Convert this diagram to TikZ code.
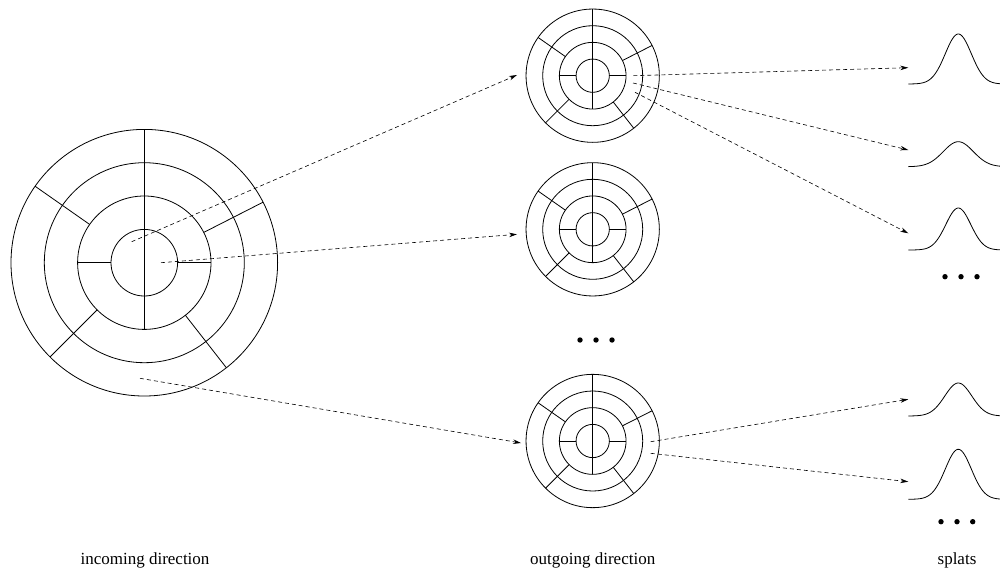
\documentclass[tikz,border=0pt]{standalone}
\usepackage{fontspec}
\setmainfont{Liberation Serif}
\usetikzlibrary{arrows.meta}
\begin{document}
\begin{tikzpicture}[x=1pt,y=-1pt,
  ring/.style={line width=0.8pt},
  arr/.style={dash pattern=on 4pt off 3pt, line width=0.6pt, -{Stealth[length=8pt,width=4.5pt]}},
  lbl/.style={anchor=base, font=\fontsize{17}{20}\selectfont},
  splat/.style={line width=0.8pt},
  dot/.style={fill=black, circle, inner sep=0pt, minimum size=5.4pt},
  polardisc/.pic={
    \foreach \r in {33.3,66.7,100,133.3} \draw[ring] (0,0) circle[radius=\r];
    \draw[ring] (0,-133.3) -- (0,66.7);
    \draw[ring] (-66.7,0) -- (-33.3,0) (33.3,0) -- (66.7,0);
    \foreach \a in {-145,-27,135,52} \draw[ring] (\a:66.7) -- (\a:133.3);
  }]
\path[use as bounding box, fill=white] (0,0) rectangle (1000,570);

% discs
\pic at (144.3,262.7) {polardisc};
\pic[scale=0.5] at (592.7,75.7) {polardisc};
\pic[scale=0.5] at (592.7,229.3) {polardisc};
\pic[scale=0.5] at (592.7,441) {polardisc};

% splats
\foreach \b/\h/\s in {84/50/13, 166.7/25/15, 250/42/12.5, 416/33/13.5, 499.3/50/13}
  \draw[splat, domain=-50:42, samples=70, smooth] plot ({958.3+\x}, {\b-\h*exp(-\x*\x/(2*\s*\s))});

% arrow end points
\coordinate (a1s) at (131.7,241.7); \coordinate (a1e) at (517,75);
\coordinate (a2s) at (161,262.7);   \coordinate (a2e) at (517,234.3);
\coordinate (a3s) at (140,378.3);   \coordinate (a3e) at (521,443);
\coordinate (a4s) at (633.3,75.7);  \coordinate (a4e) at (908.3,67.7);
\coordinate (a5s) at (633,83);      \coordinate (a5e) at (908.3,150);
\coordinate (a6s) at (635,92.3);    \coordinate (a6e) at (908.3,233.3);
\coordinate (a7s) at (650.7,441.7); \coordinate (a7e) at (908.3,399.3);
\coordinate (a8s) at (650.7,453.3); \coordinate (a8e) at (908.3,481.7);
\foreach \i in {1,...,8} \draw[arr] (a\i s) -- (a\i e);

% dots
\foreach \x/\y [count=\k] in {580/340,596/340,612/340,945/276.7,961/276.7,977/276.7,941/521.7,957/521.7,972.7/521.7}
  \node[dot] (d\k) at (\x,\y) {};

% labels
\node[lbl] (lin) at (145,564) {incoming direction};
\node[lbl] (lout) at (592.7,564) {outgoing direction};
\node[lbl] (lspl) at (957,564) {splats};
\end{tikzpicture}
\end{document}
